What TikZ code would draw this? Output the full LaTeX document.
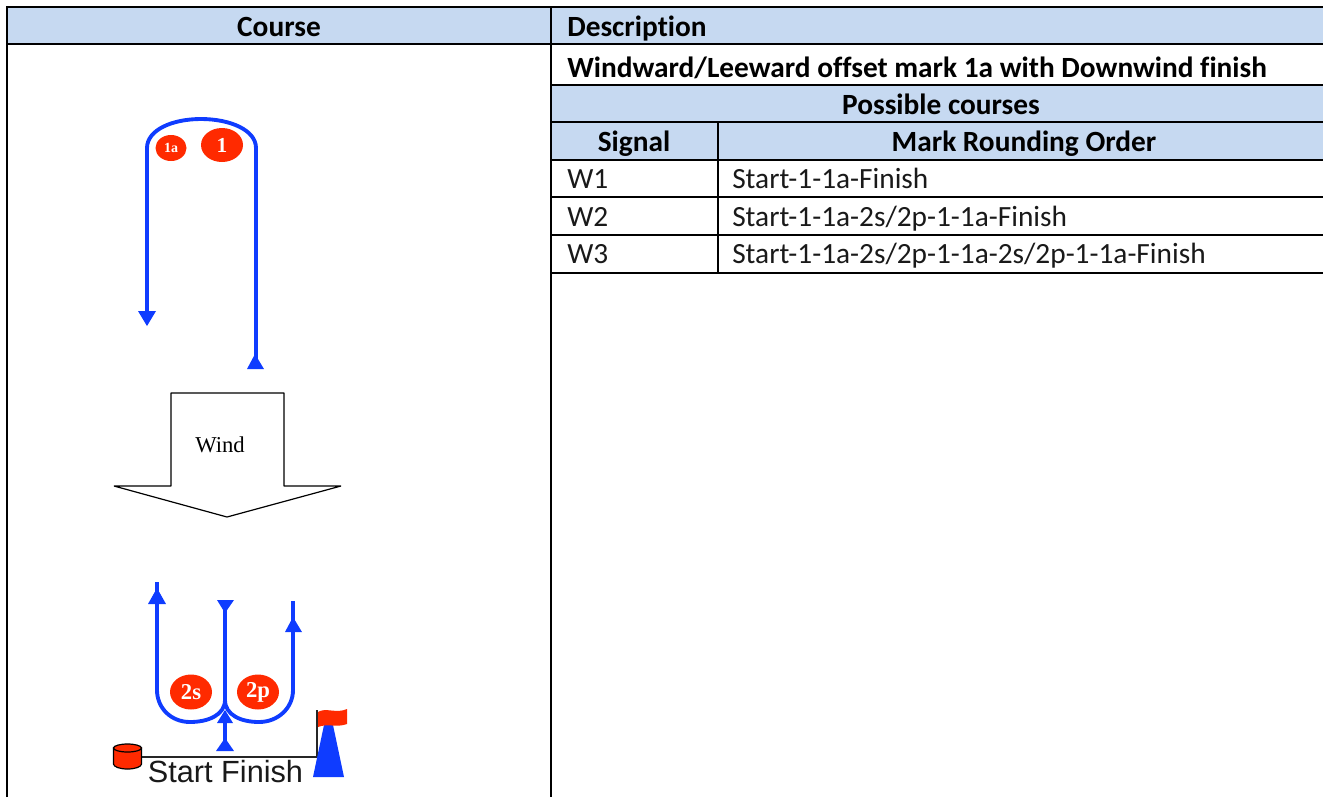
\documentclass[tikz,border=0pt]{standalone}
\usepackage{fontspec}
\setmainfont{Carlito}[RawFeature={-liga;-clig}]
\newfontfamily\armfont{Liberation Sans}
\newfontfamily\serffont{Liberation Serif}
\definecolor{headfill}{HTML}{C6D9F1}
\definecolor{markred}{HTML}{FF2A00}
\definecolor{pathblue}{HTML}{0F3CFF}
\tikzset{
  tline/.style={line width=1.6pt,black},
  thead/.style={fill=headfill},
  celltxt/.style={inner sep=0pt,font=\fontsize{22}{26}\selectfont,text=black!90},
  headtxt/.style={inner sep=0pt,font=\fontsize{22}{26}\selectfont\bfseries,text=black},
  course/.style={line width=2.9pt,pathblue,line cap=butt},
  tip/.style={fill=pathblue},
  buoy/.style={ellipse,fill=markred,inner sep=0pt,text=white,font=\serffont\bfseries},
}
\usetikzlibrary{shapes.geometric}
\begin{document}
\begin{tikzpicture}[x=0.75pt,y=-0.75pt]
\useasboundingbox (0,0) rectangle (1323,797);
% header fills
\fill[thead] (7,7) rectangle (551,44);
\fill[thead] (551,7) rectangle (1323,44);
\fill[thead] (551,85) rectangle (1323,160);
% rules
\draw[tline] (7,797) -- (7,7) -- (1323,7);
\draw[tline] (7,44) -- (1323,44);
\draw[tline] (551,7) -- (551,797);
\draw[tline] (551,85) -- (1323,85);
\draw[tline] (551,122) -- (1323,122);
\draw[tline] (551,160) -- (1323,160);
\draw[tline] (551,197) -- (1323,197);
\draw[tline] (551,235) -- (1323,235);
\draw[tline] (551,273) -- (1323,273);
\draw[tline] (718,122) -- (718,273);
% table text
\node[headtxt,anchor=base] (course) at (279,36) {Course};
\node[headtxt,anchor=base west] (desc) at (567,36) {Description};
\node[headtxt,anchor=base west] (title) at (567,77) {Windward/Leeward offset mark 1a with Downwind finish};
\node[headtxt,anchor=base] (poss) at (941,114) {Possible courses};
\node[headtxt,anchor=base] (signal) at (634,151) {Signal};
\node[headtxt,anchor=base] (order) at (1024,151) {Mark Rounding Order};
\node[celltxt,anchor=base west] (w1) at (567,188) {W1};
\node[celltxt,anchor=base west] (w2) at (567,226) {W2};
\node[celltxt,anchor=base west] (w3) at (567,263) {W3};
\node[celltxt,anchor=base west] (o1) at (732,188) {Start-1-1a-Finish};
\node[celltxt,anchor=base west] (o2) at (732,226) {Start-1-1a-2s/2p-1-1a-Finish};
\node[celltxt,anchor=base west] (o3) at (732,263) {Start-1-1a-2s/2p-1-1a-2s/2p-1-1a-Finish};
% upper course
\draw[course] (147,315) -- (147,148) .. controls (147,130) and (172,119) .. (201,119) .. controls (230,119) and (256,130) .. (256,148) -- (256,360);
\fill[tip] (138,311) -- (156,311) -- (147,326) -- cycle;
\fill[tip] (255,354) -- (247,369) -- (264,369) -- cycle;
\node[buoy,minimum width=31pt*0.75,minimum height=26pt*0.75,font=\serffont\bfseries\fontsize{10.5}{11}\selectfont] (m1a) at (171,148) {1a};
\node[buoy,minimum width=42pt*0.75,minimum height=34pt*0.75,font=\serffont\bfseries\fontsize{16}{17}\selectfont] (m1) at (222,145) {1};
% wind arrow
\draw[black,line width=0.9pt,line join=bevel,fill=white] (171,393) -- (284,393) -- (284,486) -- (341,486) -- (227,517) -- (114,486) -- (171,486) -- cycle;
\node[inner sep=0pt,font=\serffont\fontsize{17}{20}\selectfont] (wind) at (220,445) {Wind};
% lower course
\draw[course] (157,582) -- (157,690) .. controls (157,708) and (171,722) .. (190,722) .. controls (208,722) and (225,715) .. (225,700) -- (225,605);
\draw[course] (293,601) -- (293,690) .. controls (293,708) and (278,722) .. (259,722) .. controls (241,722) and (225,715) .. (225,700);
\draw[course] (225,750) -- (225,715);
\fill[tip] (157,588) -- (148,604) -- (166,604) -- cycle;
\fill[tip] (217,600) -- (234,600) -- (225,613) -- cycle;
\fill[tip] (293,617) -- (285,632) -- (302,632) -- cycle;
\fill[tip] (225,710) -- (217,723) -- (233,723) -- cycle;
\fill[tip] (225,738) -- (216,751) -- (234,751) -- cycle;
\node[buoy,minimum width=42pt*0.75,minimum height=35pt*0.75,font=\serffont\bfseries\fontsize{17}{18}\selectfont] (m2s) at (191,692) {2s};
\node[buoy,minimum width=42pt*0.75,minimum height=35pt*0.75,font=\serffont\bfseries\fontsize{17}{18}\selectfont] (m2p) at (258,692) {2p};
% start line
\draw[black!85,line width=1pt] (142,757) -- (317,757) -- (317,710);
\fill[pathblue] (324,725) -- (333,725) -- (344,777) -- (313,777) -- cycle;
\fill[markred] (318,712) .. controls (326,707) and (336,714) .. (347,709) -- (347,724) .. controls (336,728) and (328,723) .. (318,727) -- cycle;
\filldraw[fill=markred,draw=black,line width=0.9pt] (113.5,748) -- (113.5,764) arc[start angle=180,end angle=0,x radius=14,y radius=5] -- (141.5,748) -- cycle;
\filldraw[fill=markred,draw=black,line width=0.9pt] (127.5,748) ellipse[x radius=14,y radius=4];
\node[inner sep=0pt,anchor=base,font=\armfont\fontsize{23}{26}\selectfont,text=black!90] (sf) at (225.5,782) {Start Finish};
\end{tikzpicture}
\end{document}
